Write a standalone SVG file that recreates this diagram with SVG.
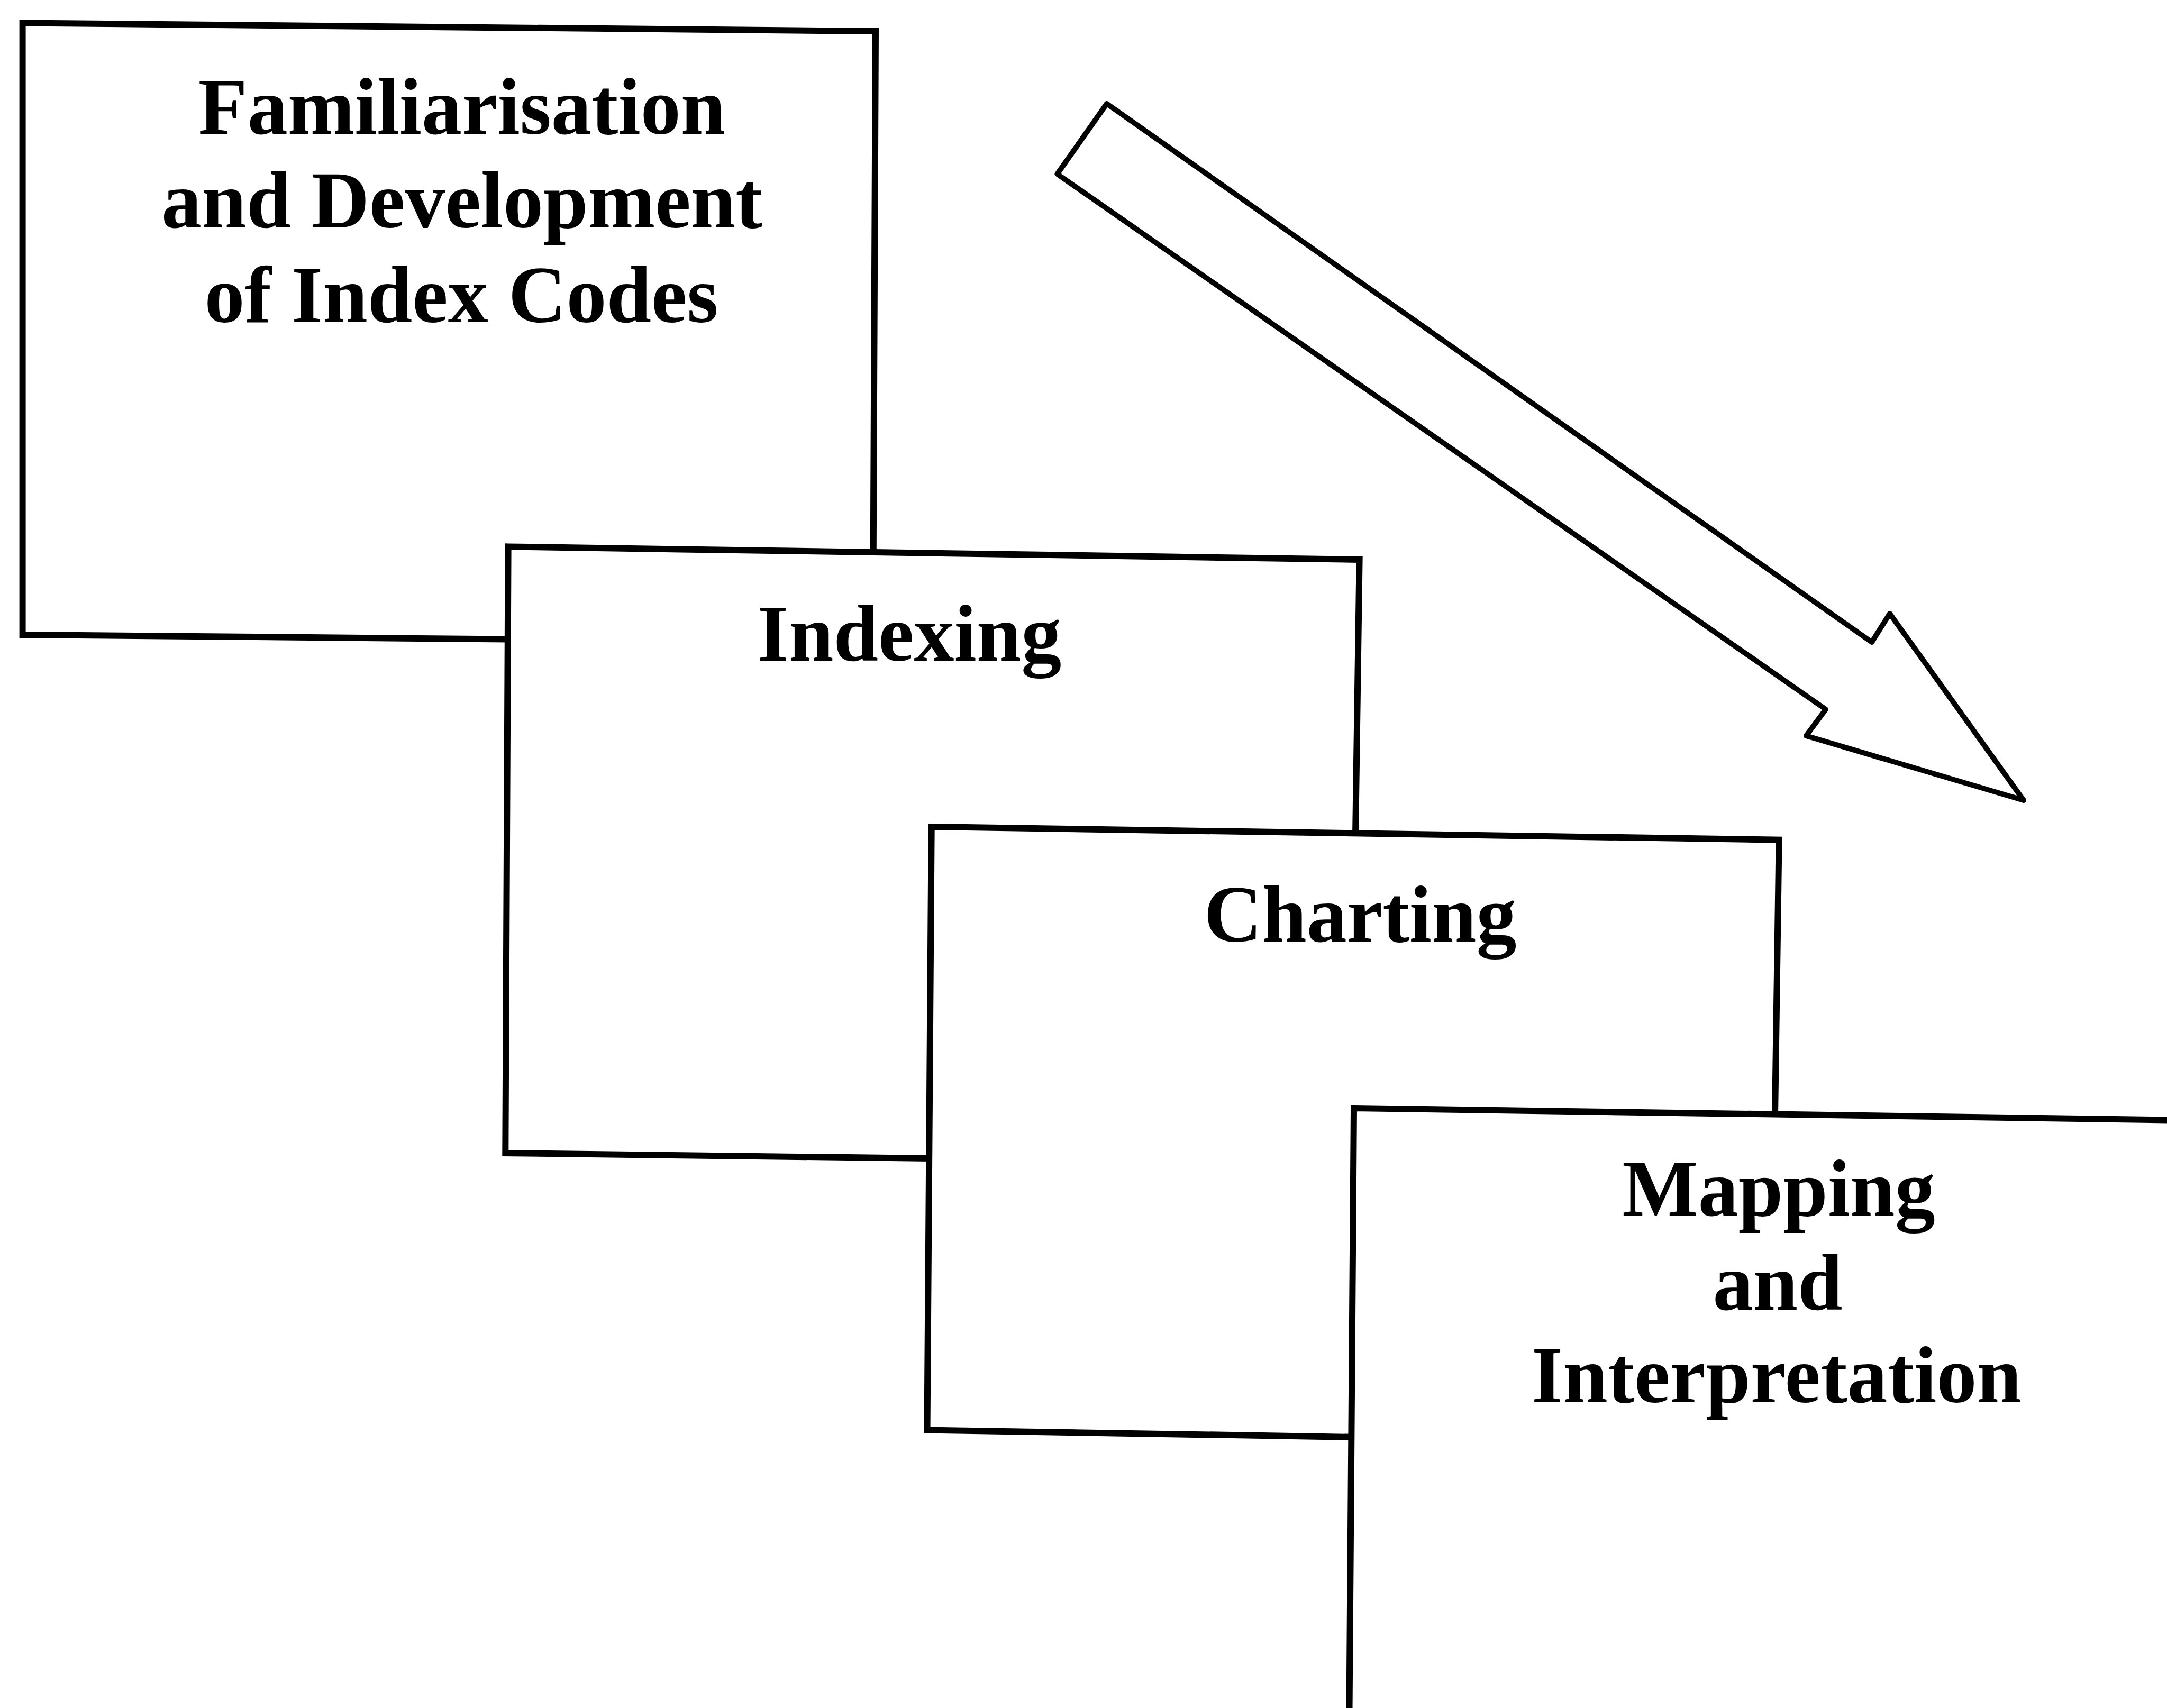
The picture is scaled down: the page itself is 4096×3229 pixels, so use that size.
<svg xmlns="http://www.w3.org/2000/svg" width="4096" height="3229" viewBox="0 0 4096 3229">
<style>
.box{fill:#fff;stroke:#000;stroke-width:12;stroke-linejoin:miter}
.arrow{fill:#fff;stroke:#000;stroke-width:10;stroke-linejoin:round}
.lbl{font-family:"Liberation Serif","Times New Roman",serif;font-weight:bold;font-size:152px;fill:#000;text-anchor:middle}
</style>
<rect width="4096" height="3229" fill="#fff"/>
<g id="node-familiarisation">
<polygon class="box" points="42.6,43.5 1655,59 1650,1215 42.6,1200"/>
<text class="lbl" x="873" y="253">Familiarisation</text>
<text class="lbl" x="873" y="430">and Development</text>
<text class="lbl" x="872" y="609">of Index Codes</text>
</g>
<g id="node-indexing">
<polygon class="box" points="960.6,1033.4 2569.6,1058 2553,2200 955.3,2180"/>
<text class="lbl" x="1719" y="1249">Indexing</text>
</g>
<g id="node-charting">
<polygon class="box" points="1760.7,1563 3362.6,1587.7 3346,2730 1752.5,2703.5"/>
<text class="lbl" x="2571" y="1780">Charting</text>
</g>
<g id="node-mapping">
<polygon class="box" points="2559,2095 4200,2119 4200,3300 2550,3300"/>
<text class="lbl" x="3362" y="2298">Mapping</text>
<text class="lbl" x="3360" y="2476">and</text>
<text class="lbl" x="3358" y="2651">Interpretation</text>
</g>
<g id="connectors">
<polygon class="arrow" points="2092,196 3538,1214 3572,1160 3825,1513 3414,1391 3451,1341 1998.4,329"/>
</g>
</svg>
